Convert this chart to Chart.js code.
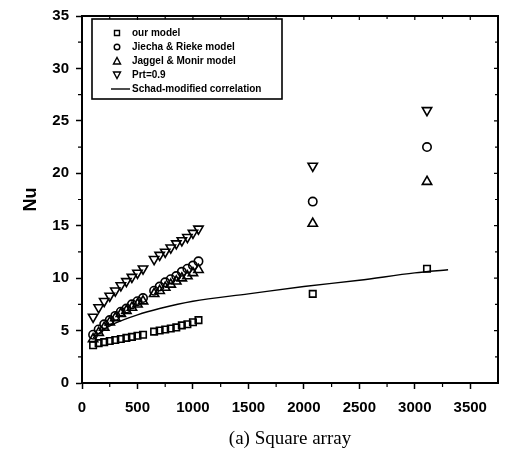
<!DOCTYPE html>
<html>
<head>
<meta charset="utf-8">
<script src="https://cdn.jsdelivr.net/npm/chart.js@4/dist/chart.umd.min.js"></script>
<style>
html,body{margin:0;padding:0;background:#fff;}
#wrap{width:505px;height:454px;}
</style>
</head>
<body>
<div id="wrap"><canvas id="myChart" width="505" height="454"></canvas></div>
<script>
const xLow = [100,150,200,250,300,350,400,450,500,550,650,700,750,800,850,900,950,1000,1050,2080,3110];

const ourModel = [3.6,3.8,3.9,4.0,4.1,4.2,4.3,4.4,4.5,4.6,4.9,5.0,5.1,5.2,5.3,5.5,5.6,5.8,6.0,8.5,10.9];
const jieschaRieke = [4.6,5.1,5.6,6.0,6.4,6.8,7.1,7.5,7.8,8.1,8.8,9.2,9.6,9.9,10.2,10.6,10.9,11.2,11.6,17.3,22.5];
const jaggelMonir = [4.2,4.8,5.3,5.8,6.2,6.6,6.9,7.2,7.5,7.8,8.5,8.8,9.1,9.4,9.7,10.0,10.2,10.5,10.8,15.2,19.2];
const prt09 = [6.3,7.2,7.8,8.3,8.8,9.3,9.7,10.1,10.5,10.9,11.8,12.2,12.5,12.9,13.3,13.6,13.9,14.3,14.7,20.7,26.0];

const schadX = [100,200,300,500,700,1000,1500,2000,2500,3000,3300];
const schadY = [4.3,5.1,5.7,6.5,7.1,7.8,8.5,9.2,9.8,10.5,10.8];

const xTicks = [0,500,1000,1500,2000,2500,3000,3500];
const yTicks = [0,5,10,15,20,25,30,35];

function pts(xs, ys){
    return xs.map((x,i) => ({x:x, y:ys[i]}));
}

const markerBase = {
    showLine:false,
    borderColor:'#000',
    backgroundColor:'rgba(255,255,255,0)',
    borderWidth:1.6,
    pointRadius:4.6
};

// minor ticks, box border, and the legend box drawn inside the plot
const extras = {
    id:'extras',
    afterDraw(chart){
        const ctx = chart.ctx;
        const a = chart.chartArea;
        const xs = chart.scales.x, ys = chart.scales.y;
        ctx.save();
        ctx.strokeStyle = '#000';
        ctx.lineWidth = 1.2;
        ctx.beginPath();
        for(let v=250; v<3750; v+=500){
            const p = xs.getPixelForValue(v);
            ctx.moveTo(p,a.bottom); ctx.lineTo(p,a.bottom+4);
            ctx.moveTo(p,a.top); ctx.lineTo(p,a.top+3);
        }
        for(let v=500; v<3750; v+=500){
            const p = xs.getPixelForValue(v);
            ctx.moveTo(p,a.top); ctx.lineTo(p,a.top+4);
        }
        for(let v=2.5; v<35; v+=5){
            const p = ys.getPixelForValue(v);
            ctx.moveTo(a.left,p); ctx.lineTo(a.left-4,p);
            ctx.moveTo(a.right,p); ctx.lineTo(a.right-3,p);
        }
        for(let v=5; v<35; v+=5){
            const p = ys.getPixelForValue(v);
            ctx.moveTo(a.right,p); ctx.lineTo(a.right-4,p);
        }
        ctx.stroke();
        ctx.lineWidth = 2;
        ctx.strokeRect(a.left,a.top,a.right-a.left,a.bottom-a.top);

        // legend
        const lx = 92, ly = 19, lw = 190, lh = 80;
        ctx.lineWidth = 1.6;
        ctx.strokeRect(lx,ly,lw,lh);
        ctx.font = 'bold 10px "Liberation Sans", Arial, sans-serif';
        ctx.fillStyle = '#000';
        ctx.textBaseline = 'middle';
        const sx = 117, tx = 132;
        chart.data.datasets.forEach((ds,i) => {
            const yy = 33 + i*14;
            ctx.lineWidth = 1.4;
            ctx.beginPath();
            if(ds.showLine){
                ctx.moveTo(111,yy); ctx.lineTo(130,yy);
            }else if(ds.pointStyle === 'rect'){
                ctx.rect(sx-2.5,yy-2.5,5,5);
            }else if(ds.pointStyle === 'circle'){
                ctx.arc(sx,yy,2.8,0,Math.PI*2);
            }else if(ds.pointRotation === 180){
                ctx.moveTo(sx-3.5,yy-3); ctx.lineTo(sx+3.5,yy-3); ctx.lineTo(sx,yy+3.5); ctx.closePath();
            }else{
                ctx.moveTo(sx-3.5,yy+3); ctx.lineTo(sx+3.5,yy+3); ctx.lineTo(sx,yy-3.5); ctx.closePath();
            }
            ctx.stroke();
            ctx.fillText(ds.label, tx, yy);
        });
        ctx.restore();
    }
};

const data = {
    datasets:[
        Object.assign({}, markerBase, {
            label:'our model',
            data:pts(xLow, ourModel),
            pointStyle:'rect'
        }),
        Object.assign({}, markerBase, {
            label:'Jiecha & Rieke model',
            data:pts(xLow, jieschaRieke),
            pointStyle:'circle',
            pointRadius:4.2
        }),
        Object.assign({}, markerBase, {
            label:'Jaggel & Monir model',
            data:pts(xLow, jaggelMonir),
            pointStyle:'triangle',
            pointRadius:5.4
        }),
        Object.assign({}, markerBase, {
            label:'Prt=0.9',
            data:pts(xLow, prt09),
            pointStyle:'triangle',
            pointRotation:180,
            pointRadius:5.4
        }),
        {
            label:'Schad-modified correlation',
            data:pts(schadX, schadY),
            showLine:true,
            borderColor:'#000',
            borderWidth:1.4,
            pointRadius:0,
            cubicInterpolationMode:'monotone'
        }
    ]
};

const tickFont = {family:'"Liberation Sans", Arial, sans-serif', size:15, weight:'bold'};

const conf = {
    type:'scatter',
    data:data,
    options:{
        responsive:false,
        animation:false,
        layout:{padding:{top:14,right:5,left:0,bottom:0}},
        plugins:{
            legend:{display:false},
            tooltip:{enabled:false}
        },
        scales:{
            x:{
                type:'linear',
                min:0,
                max:3750,
                afterBuildTicks(scale){
                    scale.ticks = xTicks.map(v => ({value:v}));
                },
                afterFit(scale){ scale.height = 71; },
                border:{display:true, color:'#000', width:2},
                grid:{drawOnChartArea:false, color:'#000', tickLength:6, tickWidth:1.5},
                ticks:{color:'#000', font:tickFont, padding:10, maxRotation:0, callback:v => String(v)},
                title:{
                    display:true,
                    text:'(a) Square array',
                    color:'#000',
                    font:{family:'"Liberation Serif", "Times New Roman", serif', size:19},
                    padding:{top:0,bottom:4}
                }
            },
            y:{
                type:'linear',
                min:0,
                max:35,
                afterBuildTicks(scale){
                    scale.ticks = yTicks.map(v => ({value:v}));
                },
                afterFit(scale){ scale.width = 82; },
                border:{display:true, color:'#000', width:2},
                grid:{drawOnChartArea:false, color:'#000', tickLength:6, tickWidth:1.5},
                ticks:{color:'#000', font:tickFont, padding:7, callback:v => String(v)},
                title:{
                    display:true,
                    text:'Nu',
                    color:'#000',
                    font:{family:'"Liberation Sans", Arial, sans-serif', size:18, weight:'bold'},
                    padding:{top:20,bottom:0}
                }
            }
        }
    },
    plugins:[extras]
};

const ctx = document.getElementById('myChart').getContext('2d');
const chart = new Chart(ctx, conf);
</script>
</body>
</html>
